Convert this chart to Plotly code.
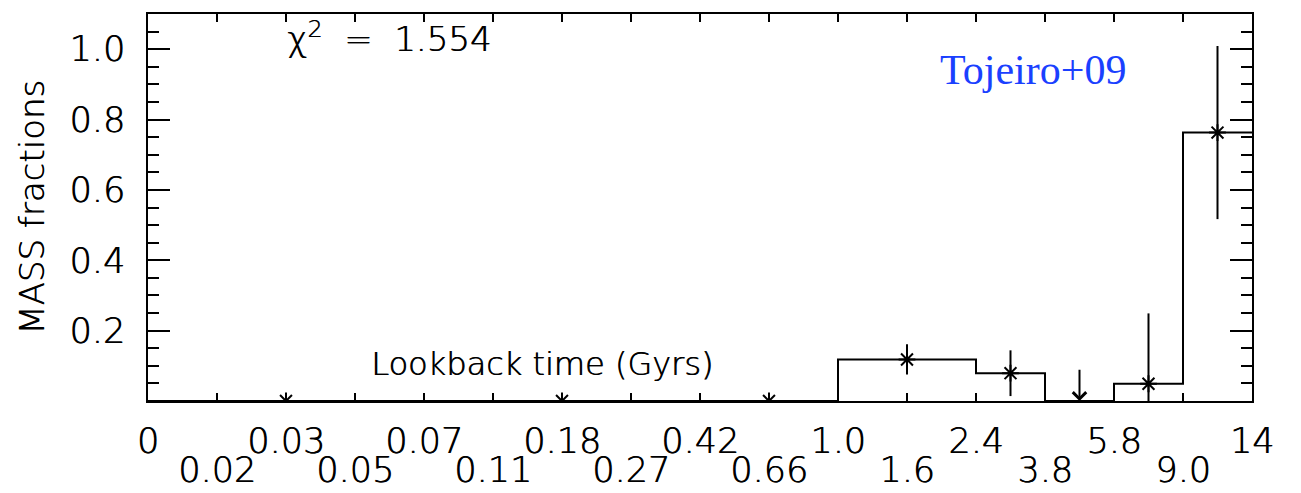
import plotly.graph_objects as go

# Lookback-time bin boundaries (Gyr), shown as equally spaced tick labels
tick_labels = ["0", "0.02", "0.03", "0.05", "0.07", "0.11", "0.18", "0.27", "0.42",
               "0.66", "1.0", "1.6", "2.4", "3.8", "5.8", "9.0", "14"]

# Combined bins, expressed as indices into tick_labels
bin_edges = [0, 4, 8, 10, 12, 13, 14, 15, 16]
mass_fraction = [0.0, 0.0, 0.0, 0.118, 0.079, 0.0, 0.049, 0.763]
mass_error = [0.0, 0.0, 0.0, 0.043, 0.065, 0.0, 0.20, 0.246]
is_upper_limit = [False, False, False, False, False, True, False, False]
upper_limit_value = [None, None, None, None, None, 0.093, None, None]

chi2 = 1.554
label_text = "Tojeiro+09"

FONT = "DejaVu Sans"
INK = "black"
LIGHT = 300
# slight horizontal offset copy to give the light face a firmer stroke
STROKE = "0.7px 0px 0px black"

centres = [(a + b) / 2 for a, b in zip(bin_edges[:-1], bin_edges[1:])]

fig = go.Figure()

# Step histogram of mass fractions
fig.add_trace(go.Scatter(
    x=bin_edges,
    y=mass_fraction + [mass_fraction[-1]],
    mode="lines",
    line=dict(color=INK, width=2, shape="hv"),
    hoverinfo="skip",
    showlegend=False,
))

# Measured points with symmetric errors
pt_x = [c for c, ul in zip(centres, is_upper_limit) if not ul]
pt_y = [v for v, ul in zip(mass_fraction, is_upper_limit) if not ul]
pt_e = [e for e, ul in zip(mass_error, is_upper_limit) if not ul]
fig.add_trace(go.Scatter(
    x=pt_x, y=pt_y,
    mode="markers",
    marker=dict(symbol="asterisk-open", size=14, color=INK,
                line=dict(color=INK, width=2)),
    error_y=dict(type="data", array=pt_e, visible=True, width=0,
                 thickness=2, color=INK),
    showlegend=False,
))

# Invisible trace that carries the second row of tick labels
fig.add_trace(go.Scatter(x=[0, 16], y=[0, 0], xaxis="x2", mode="lines",
                         line=dict(width=0), hoverinfo="skip", showlegend=False))

# Upper limits drawn as downward arrows
for c, ul, top in zip(centres, is_upper_limit, upper_limit_value):
    if ul:
        fig.add_annotation(
            x=c, y=0, ax=c, ay=top, xref="x", yref="y", axref="x", ayref="y",
            showarrow=True, arrowhead=4, arrowsize=1.3, arrowwidth=2,
            arrowcolor=INK, text="",
        )

idx = list(range(len(tick_labels)))
even_vals = [i for i in idx if i % 2 == 0]
odd_vals = [i for i in idx if i % 2 == 1]
tick_font = dict(family=FONT, size=35, color=INK, weight=LIGHT, shadow=STROKE)

fig.update_layout(
    xaxis=dict(
        range=[0, 16],
        tickmode="array",
        tickvals=even_vals,
        ticktext=[tick_labels[i] for i in even_vals],
        ticks="inside", ticklen=8, tickwidth=2, tickcolor=INK,
        minor=dict(ticks="inside", ticklen=8, tickwidth=2, tickcolor=INK,
                   tickmode="array", tickvals=odd_vals, showgrid=False),
        showline=True, linewidth=2, linecolor=INK, mirror="ticks",
        showgrid=False, zeroline=False,
        tickfont=tick_font,
        ticklabelstandoff=8,
        automargin=False,
    ),
    xaxis2=dict(
        range=[0, 16],
        overlaying="x", anchor="y", side="bottom",
        tickmode="array",
        tickvals=odd_vals,
        ticktext=[tick_labels[i] for i in odd_vals],
        ticks="", showline=False, showgrid=False, zeroline=False,
        tickfont=tick_font,
        ticklabelstandoff=45,
        automargin=False,
    ),
    yaxis=dict(
        range=[0, 1.1],
        tickmode="array",
        tickvals=[0.2, 0.4, 0.6, 0.8, 1.0],
        ticktext=["0.2", "0.4", "0.6", "0.8", "1.0"],
        ticks="inside", ticklen=22, tickwidth=2, tickcolor=INK,
        minor=dict(ticks="inside", ticklen=11, tickwidth=2, tickcolor=INK,
                   dtick=0.05, tick0=0, showgrid=False),
        showline=True, linewidth=2, linecolor=INK, mirror="ticks",
        showgrid=False, zeroline=False,
        tickfont=tick_font,
        ticklabelstandoff=14,
        title=dict(text="MASS fractions",
                   font=dict(family=FONT, size=34, color=INK, weight=LIGHT,
                             shadow=STROKE),
                   standoff=14),
        automargin=False,
    ),
)

fig.add_annotation(
    x=0.124, y=0.94, xref="paper", yref="paper", xanchor="left", yanchor="middle",
    text=f"χ<sup>2</sup>  =  {chi2:.3f}", showarrow=False,
    font=dict(family=FONT, size=34, color=INK, weight=LIGHT, shadow=STROKE),
)
fig.add_annotation(
    x=0.357, y=0.096, xref="paper", yref="paper", xanchor="center", yanchor="middle",
    text="Lookback time (Gyrs)", showarrow=False,
    font=dict(family=FONT, size=32, color=INK, weight=LIGHT, shadow=STROKE),
)
fig.add_annotation(
    x=0.802, y=0.855, xref="paper", yref="paper", xanchor="center", yanchor="middle",
    text=label_text, showarrow=False,
    font=dict(family="Liberation Serif", size=42, color="#1a40ff"),
)

fig.update_layout(
    width=1301, height=493,
    margin=dict(l=148, r=49, t=14, b=92),
    paper_bgcolor="white", plot_bgcolor="white",
    showlegend=False,
)

fig.write_html("out.html")
